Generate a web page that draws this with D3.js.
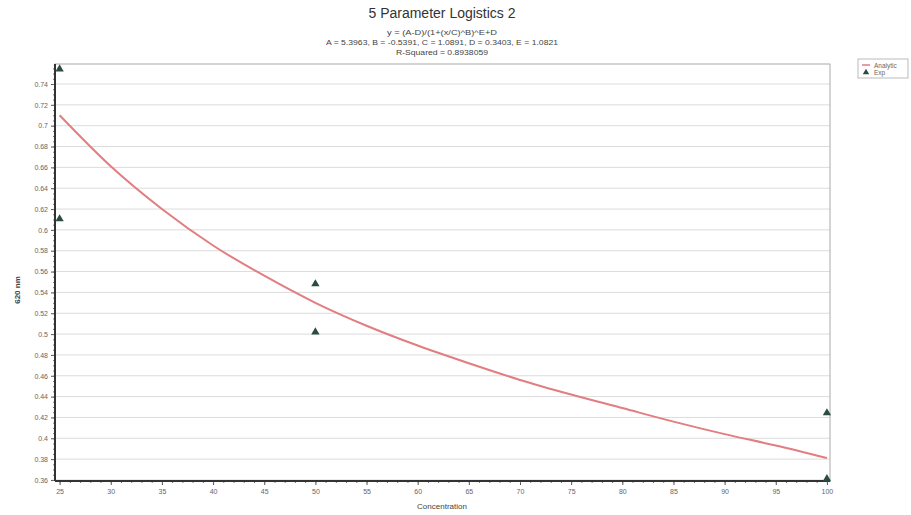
<!doctype html>
<html>
<head>
<meta charset="UTF-8">
<script src="https://cdn.jsdelivr.net/npm/d3@7"></script>
<style>
  body { margin: 0; background: #fff; }
  svg { font-family: "Liberation Sans", Arial, sans-serif; }
</style>
</head>
<body>
<svg id="chart" width="911" height="515"></svg>
<script>
// chart text
var title = "5 Parameter Logistics 2";
var subLines = ["y = (A-D)/(1+(x/C)^B)^E+D",
                "A = 5.3963, B = -0.5391, C = 1.0891, D = 0.3403, E = 1.0821",
                "R-Squared = 0.8938059"];
var xLabel = "Concentration";
var yLabel = "620 nm";
var legendNames = ["Analytic", "Exp"];

// tick values
var xTicks = [25, 30, 35, 40, 45, 50, 55, 60, 65, 70, 75, 80, 85, 90, 95, 100];
var yTicks = [0.36, 0.38, 0.4, 0.42, 0.44, 0.46, 0.48, 0.5, 0.52, 0.54, 0.56, 0.58,
              0.6, 0.62, 0.64, 0.66, 0.68, 0.7, 0.72, 0.74];

// experimental points
var expX = [25, 25, 50, 50, 100, 100];
var expY = [0.7544, 0.6105, 0.5481, 0.5020, 0.4243, 0.3610];

// fitted curve
var fitX = [25, 30, 35, 40, 45, 50, 55, 60, 65, 70, 75, 80, 85, 90, 95, 100];
var fitY = [0.710, 0.661, 0.620, 0.585, 0.556, 0.530, 0.508, 0.489, 0.472, 0.456,
            0.442, 0.429, 0.416, 0.404, 0.393, 0.381];

var svg = d3.select("#chart");
var pLeft = 55, pRight = 830, pTop = 64, pBottom = 481;

var x = d3.scaleLinear().domain([24.55, 100.3]).range([pLeft, pRight]);
var y = d3.scaleLinear().domain([0.359, 0.7592]).range([pBottom, pTop]);

// title + fit info
svg.append("text").attr("x", 442).attr("y", 18).attr("text-anchor", "middle")
    .style("font-size", "14px").style("fill", "#333").text(title);
var subW = [110, 232, 92];
subLines.forEach(function(s, i){
    svg.append("text").attr("x", 442).attr("y", 35 + i*10).attr("text-anchor", "middle")
        .attr("textLength", subW[i]).attr("lengthAdjust", "spacingAndGlyphs")
        .style("font-size", "7px").style("fill", "#444").text(s);
});

// horizontal grid
svg.append("g").selectAll("line").data(yTicks).enter().append("line")
    .attr("x1", pLeft).attr("x2", pRight)
    .attr("y1", d => y(d)).attr("y2", d => y(d))
    .style("stroke", "#dcdcdc").style("stroke-width", 1);

// frame
svg.append("rect").attr("x", pLeft).attr("y", pTop)
    .attr("width", pRight-pLeft).attr("height", pBottom-pTop)
    .style("fill", "none").style("stroke", "#aaa").style("stroke-width", 1);

// x axis
var xAxis = d3.axisBottom(x).tickValues(xTicks).tickSize(4).tickFormat(d3.format("d"));
var gx = svg.append("g").attr("transform", "translate(0," + pBottom + ")").call(xAxis);
gx.select(".domain").remove();
gx.selectAll(".tick line").style("stroke", "#555");
gx.selectAll(".tick text").style("font-size", "7px").style("fill", "#666").attr("dy", "0.9em");
svg.append("g").attr("transform", "translate(0," + pBottom + ")")
    .call(d3.axisBottom(x).tickValues(d3.range(25, 100.5, 1)).tickSize(2).tickFormat(""))
    .call(g => g.select(".domain").remove())
    .selectAll("line").style("stroke", "#777");
svg.append("line").attr("x1", pLeft).attr("x2", pRight).attr("y1", pBottom).attr("y2", pBottom)
    .style("stroke", "#333").style("stroke-width", 2);

// y axis
var yAxis = d3.axisLeft(y).tickValues(yTicks).tickSize(4).tickFormat(d3.format("~g"));
var gy = svg.append("g").attr("transform", "translate(" + pLeft + ",0)").call(yAxis);
gy.select(".domain").remove();
gy.selectAll(".tick line").style("stroke", "#555");
gy.selectAll(".tick text").style("font-size", "7px").style("fill", "#666");
svg.append("g").attr("transform", "translate(" + pLeft + ",0)")
    .call(d3.axisLeft(y).tickValues(d3.range(0.36, 0.7591, 0.005)).tickSize(2).tickFormat(""))
    .call(g => g.select(".domain").remove())
    .selectAll("line").style("stroke", "#777");
svg.append("line").attr("x1", pLeft).attr("x2", pLeft).attr("y1", pTop).attr("y2", pBottom)
    .style("stroke", "#333").style("stroke-width", 2);

// axis labels
svg.append("text").attr("x", 442).attr("y", 509).attr("text-anchor", "middle")
    .style("font-size", "8px").style("fill", "#444").text(xLabel);
svg.append("text").attr("transform", "translate(20,290) rotate(-90)").attr("text-anchor", "middle")
    .style("font-size", "8px").style("font-weight", "bold").style("fill", "#444").text(yLabel);

// fitted curve
var line = d3.line().x(d => x(d[0])).y(d => y(d[1])).curve(d3.curveMonotoneX);
svg.append("path").datum(d3.zip(fitX, fitY)).attr("d", line)
    .style("fill", "none").style("stroke", "#e27d80").style("stroke-width", 2);

// experimental points
var tri = d3.symbol().type(d3.symbolTriangle).size(30);
svg.append("g").selectAll("path").data(d3.zip(expX, expY)).enter().append("path")
    .attr("d", tri)
    .attr("transform", d => "translate(" + x(d[0]) + "," + y(d[1]) + ")")
    .style("fill", "#2c4c40");

// legend
var lg = svg.append("g").attr("transform", "translate(858,59)");
lg.append("rect").attr("width", 50).attr("height", 19)
    .style("fill", "#fff").style("stroke", "#bbb");
lg.append("line").attr("x1", 4).attr("x2", 12).attr("y1", 6).attr("y2", 6)
    .style("stroke", "#e27d80").style("stroke-width", 1.5);
lg.append("path").attr("d", d3.symbol().type(d3.symbolTriangle).size(18))
    .attr("transform", "translate(8,13.5)").style("fill", "#2c4c40");
legendNames.forEach(function(n, i){
    lg.append("text").attr("x", 16).attr("y", 8.5 + i*7).style("font-size", "6.5px")
        .style("fill", "#666").text(n);
});
</script>
</body>
</html>
